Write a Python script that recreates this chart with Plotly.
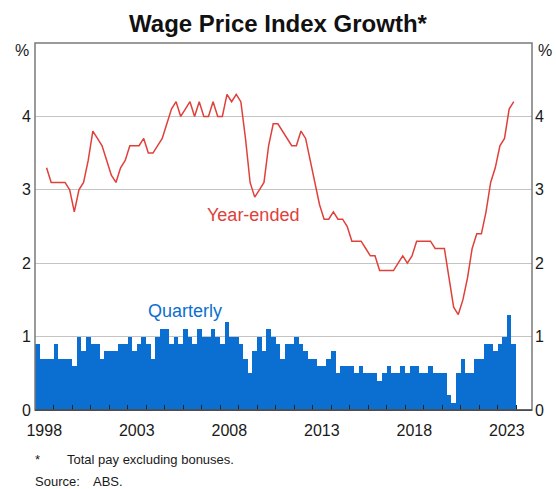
import plotly.graph_objects as go

# ---------------- data ----------------
start_year = 1998  # first quarterly observation: 1998 Q1
quarterly = [
    0.9, 0.7, 0.7, 0.7,   # 1998
    0.9, 0.7, 0.7, 0.7,   # 1999
    0.6, 1.0, 0.8, 1.0,   # 2000
    0.9, 0.9, 0.7, 0.8,   # 2001
    0.8, 0.8, 0.9, 0.9,   # 2002
    1.0, 0.8, 0.9, 1.0,   # 2003
    0.9, 0.7, 1.0, 1.1,   # 2004
    1.1, 0.9, 1.0, 0.9,   # 2005
    1.1, 1.0, 0.9, 1.1,   # 2006
    1.0, 1.0, 1.1, 1.0,   # 2007
    0.9, 1.2, 1.0, 1.0,   # 2008
    0.9, 0.7, 0.5, 0.8,   # 2009
    1.0, 0.8, 1.1, 1.0,   # 2010
    0.9, 0.7, 0.9, 0.9,   # 2011
    1.0, 0.9, 0.8, 0.7,   # 2012
    0.7, 0.6, 0.6, 0.7,   # 2013
    0.8, 0.5, 0.6, 0.6,   # 2014
    0.6, 0.5, 0.6, 0.5,   # 2015
    0.5, 0.5, 0.4, 0.5,   # 2016
    0.6, 0.5, 0.5, 0.6,   # 2017
    0.5, 0.6, 0.6, 0.5,   # 2018
    0.5, 0.6, 0.5, 0.5,   # 2019
    0.5, 0.2, 0.1, 0.5,   # 2020
    0.7, 0.5, 0.5, 0.7,   # 2021
    0.7, 0.9, 0.9, 0.8,   # 2022
    0.9, 1.0, 1.3, 0.9,   # 2023
]

year_ended_start_index = 2  # first year-ended observation: 1998 Q3
year_ended = [
    3.3, 3.1,                 # 1998 Q3-Q4
    3.1, 3.1, 3.1, 3.0,       # 1999
    2.7, 3.0, 3.1, 3.4,       # 2000
    3.8, 3.7, 3.6, 3.4,       # 2001
    3.2, 3.1, 3.3, 3.4,       # 2002
    3.6, 3.6, 3.6, 3.7,       # 2003
    3.5, 3.5, 3.6, 3.7,       # 2004
    3.9, 4.1, 4.2, 4.0,       # 2005
    4.1, 4.2, 4.0, 4.2,       # 2006
    4.0, 4.0, 4.2, 4.0,       # 2007
    4.0, 4.3, 4.2, 4.3,       # 2008
    4.2, 3.7, 3.1, 2.9,       # 2009
    3.0, 3.1, 3.6, 3.9,       # 2010
    3.9, 3.8, 3.7, 3.6,       # 2011
    3.6, 3.8, 3.7, 3.4,       # 2012
    3.1, 2.8, 2.6, 2.6,       # 2013
    2.7, 2.6, 2.6, 2.5,       # 2014
    2.3, 2.3, 2.3, 2.2,       # 2015
    2.1, 2.1, 1.9, 1.9,       # 2016
    1.9, 1.9, 2.0, 2.1,       # 2017
    2.0, 2.1, 2.3, 2.3,       # 2018
    2.3, 2.3, 2.2, 2.2,       # 2019
    2.2, 1.8, 1.4, 1.3,       # 2020
    1.5, 1.8, 2.2, 2.4,       # 2021
    2.4, 2.7, 3.1, 3.3,       # 2022
    3.6, 3.7, 4.1, 4.2,       # 2023
]

x_label_years = [1998, 2003, 2008, 2013, 2018, 2023]
y_ticks = [0, 1, 2, 3, 4]

# quarter mid-points in decimal years
q_x = [start_year + (i + 0.5) / 4 for i in range(len(quarterly))]
ye_x = [start_year + (i + year_ended_start_index + 0.5) / 4 for i in range(len(year_ended))]

FONT = "Liberation Sans, Arial, sans-serif"
BLUE = "#0a6fd0"
RED = "#e0403a"
X_RANGE = [1998, 2024.86]
Y_RANGE = [0, 5]

fig = go.Figure()
fig.add_trace(go.Bar(x=q_x, y=quarterly, width=0.25, marker=dict(color=BLUE, line=dict(width=0)),
                     xaxis="x", yaxis="y", hoverinfo="skip"))
fig.add_trace(go.Scatter(x=ye_x, y=year_ended, mode="lines", line=dict(color=RED, width=1.5),
                         xaxis="x2", yaxis="y2", hoverinfo="skip"))

fig.update_layout(
    width=556, height=489,
    margin=dict(l=35, r=21, t=43, b=79),
    paper_bgcolor="white", plot_bgcolor="white",
    showlegend=False, bargap=0,
    font=dict(family=FONT, size=16, color="#1a1a1a"),
    title=dict(text="<b>Wage Price Index Growth*</b>", x=0.5, xanchor="center",
               y=1 - 24 / 489, yanchor="middle", yref="container",
               font=dict(family=FONT, size=24, color="#111")),
    xaxis=dict(range=X_RANGE, tickvals=list(range(1999, 2025)), ticks="inside", ticklen=5,
               tickwidth=1, tickcolor="#222", showticklabels=False, showgrid=False,
               zeroline=False, showline=True, linecolor="#333", linewidth=1),
    xaxis2=dict(range=X_RANGE, overlaying="x", anchor="y", side="bottom",
                tickvals=[y + 0.5 for y in x_label_years], ticktext=[str(y) for y in x_label_years],
                ticks="", showgrid=False, zeroline=False, showline=False,
                tickfont=dict(size=16), ticklabelstandoff=9),
    yaxis=dict(range=Y_RANGE, tickvals=y_ticks, ticks="", showgrid=True, gridcolor="#c4c4c4",
               gridwidth=1, zeroline=False, showline=False, tickfont=dict(size=16),
               ticklabelstandoff=3),
    yaxis2=dict(range=Y_RANGE, overlaying="y", anchor="x2", side="right", tickvals=y_ticks,
                ticks="", showgrid=False, zeroline=False, showline=False,
                tickfont=dict(size=16), ticklabelstandoff=2),
)

# frame around the plot area (top, left, right in grey)
fig.add_shape(type="rect", xref="x domain", yref="y domain", x0=0, x1=1, y0=0, y1=1,
              line=dict(color="#7a7a7a", width=1.5), layer="above")
fig.add_shape(type="line", xref="x domain", yref="y domain", x0=0, x1=1, y0=0, y1=0,
              line=dict(color="#333", width=1.2), layer="above")

ann = []
ann.append(dict(text="%", xref="paper", yref="paper", x=-0.008, y=1 - 8 / 367, xanchor="right",
                yanchor="middle", showarrow=False, font=dict(size=16)))
ann.append(dict(text="%", xref="paper", yref="paper", x=1.008, y=1 - 8 / 367, xanchor="left",
                yanchor="middle", showarrow=False, font=dict(size=16)))
ann.append(dict(text="Year-ended", xref="x2", yref="y2", x=2009.8, y=(410 - 215) / 73.4,
                xanchor="center", yanchor="middle", showarrow=False,
                font=dict(size=18, color=RED)))
ann.append(dict(text="Quarterly", xref="x2", yref="y2", x=2006.1, y=(410 - 310.5) / 73.4,
                xanchor="center", yanchor="middle", showarrow=False,
                font=dict(size=18, color=BLUE)))
ann.append(dict(text="*", xref="paper", yref="paper", x=-0.004, y=(410 - 459) / 367,
                xanchor="left", yanchor="middle", showarrow=False, font=dict(size=13)))
ann.append(dict(text="Total pay excluding bonuses.", xref="paper", yref="paper", x=0.06,
                y=(410 - 459) / 367, xanchor="left", yanchor="middle", showarrow=False,
                font=dict(size=13)))
ann.append(dict(text="Source:", xref="paper", yref="paper", x=-0.005, y=(410 - 481) / 367,
                xanchor="left", yanchor="middle", showarrow=False, font=dict(size=13)))
ann.append(dict(text="ABS.", xref="paper", yref="paper", x=0.112, y=(410 - 481) / 367,
                xanchor="left", yanchor="middle", showarrow=False, font=dict(size=13)))
fig.update_layout(annotations=ann)

fig.write_html("out.html")
